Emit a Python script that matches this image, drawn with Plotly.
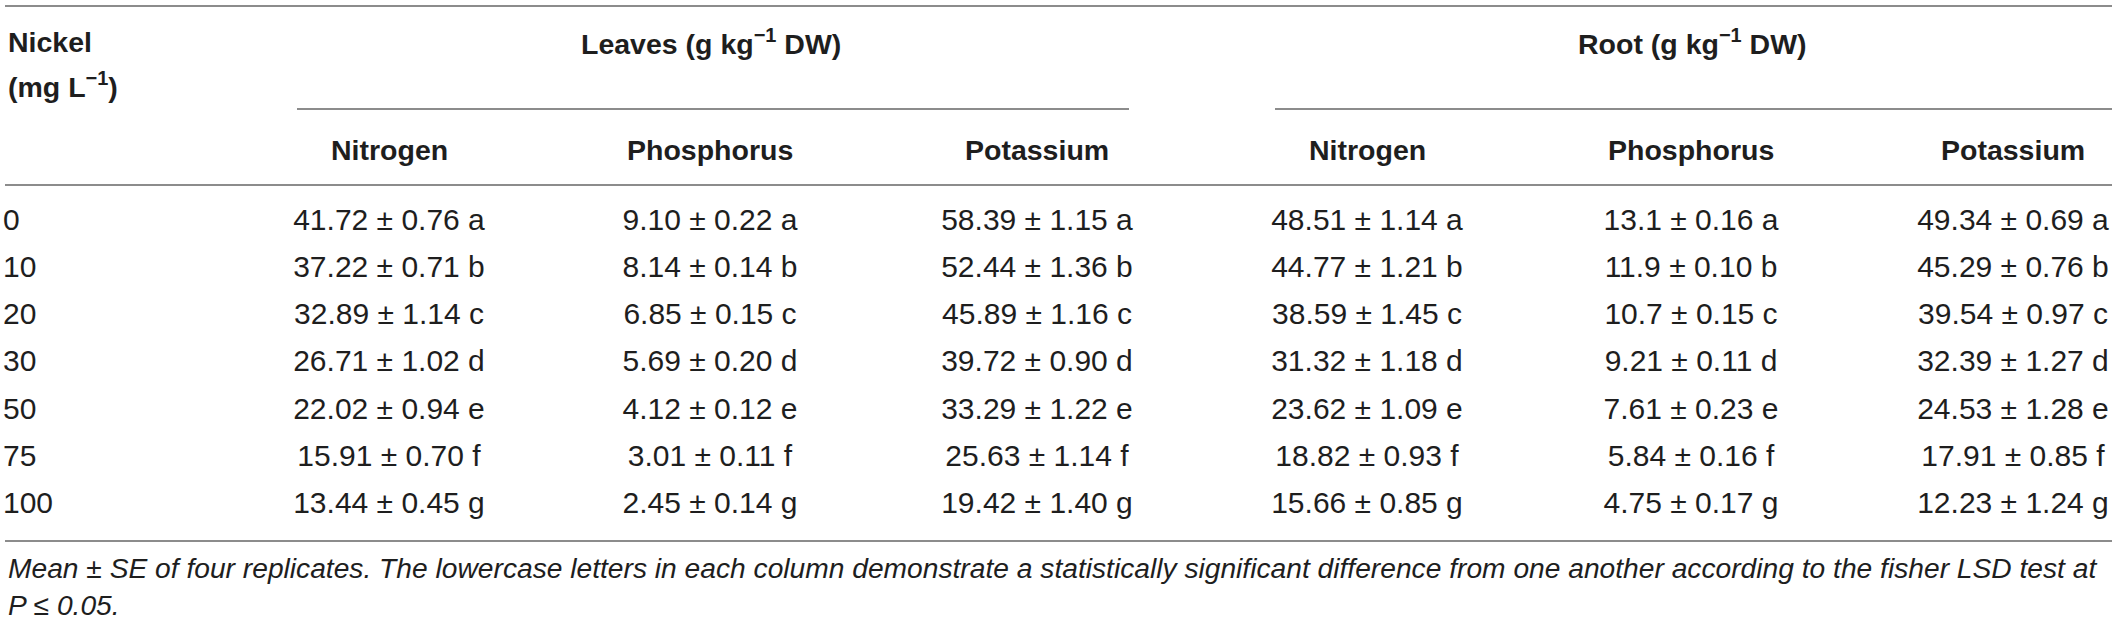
import plotly.graph_objects as go

# table values (mean, SE, LSD letter)
nickel = ["0", "10", "20", "30", "50", "75", "100"]
letters = ["a", "b", "c", "d", "e", "f", "g"]

leaves_n_mean = ["41.72", "37.22", "32.89", "26.71", "22.02", "15.91", "13.44"]
leaves_n_se = ["0.76", "0.71", "1.14", "1.02", "0.94", "0.70", "0.45"]
leaves_p_mean = ["9.10", "8.14", "6.85", "5.69", "4.12", "3.01", "2.45"]
leaves_p_se = ["0.22", "0.14", "0.15", "0.20", "0.12", "0.11", "0.14"]
leaves_k_mean = ["58.39", "52.44", "45.89", "39.72", "33.29", "25.63", "19.42"]
leaves_k_se = ["1.15", "1.36", "1.16", "0.90", "1.22", "1.14", "1.40"]

root_n_mean = ["48.51", "44.77", "38.59", "31.32", "23.62", "18.82", "15.66"]
root_n_se = ["1.14", "1.21", "1.45", "1.18", "1.09", "0.93", "0.85"]
root_p_mean = ["13.1", "11.9", "10.7", "9.21", "7.61", "5.84", "4.75"]
root_p_se = ["0.16", "0.10", "0.15", "0.11", "0.23", "0.16", "0.17"]
root_k_mean = ["49.34", "45.29", "39.54", "32.39", "24.53", "17.91", "12.23"]
root_k_se = ["0.69", "0.76", "0.97", "1.27", "1.28", "0.85", "1.24"]

sub_headers = ["Nitrogen", "Phosphorus", "Potassium", "Nitrogen", "Phosphorus", "Potassium"]
group_headers = ["Leaves (g kg<sup>−1</sup> DW)", "Root (g kg<sup>−1</sup> DW)"]
footnote = ["Mean ± SE of four replicates. The lowercase letters in each column demonstrate a "
            "statistically significant difference from one another according to the fisher LSD test at",
            "P ≤ 0.05."]

columns = [
    (leaves_n_mean, leaves_n_se), (leaves_p_mean, leaves_p_se), (leaves_k_mean, leaves_k_se),
    (root_n_mean, root_n_se), (root_p_mean, root_p_se), (root_k_mean, root_k_se),
]

# layout (pixel space)
W, H = 2117, 624
col_x = [389, 710, 1037, 1367, 1691, 2013]
group_x = [711, 1692]
row_y0, row_dy = 222, 47.3
row_y = [row_y0 + i * row_dy for i in range(len(nickel))]

FONT = "Liberation Sans, Arial, sans-serif"
TXT = "#1e1e1e"
RULE = "#8c8c8c"

fig = go.Figure()

# first column: nickel levels, left aligned
fig.add_trace(go.Scatter(
    x=[3] * len(nickel), y=row_y, text=nickel, mode="text",
    textposition="middle right", textfont=dict(family=FONT, size=30, color=TXT),
    hoverinfo="skip", showlegend=False, cliponaxis=False))

for cx, (means, ses) in zip(col_x, columns):
    cells = [f"{m} ± {s} {l}" for m, s, l in zip(means, ses, letters)]
    fig.add_trace(go.Scatter(
        x=[cx] * len(cells), y=row_y, text=cells, mode="text",
        textposition="middle center", textfont=dict(family=FONT, size=30, color=TXT),
        hoverinfo="skip", showlegend=False, cliponaxis=False))

annotations = []
bold = dict(family=FONT, size=28.5, color=TXT, weight="bold")
annotations.append(dict(x=6, y=42, text="<b>Nickel</b>", xanchor="left", font=bold))
annotations.append(dict(x=6, y=85, text="<b>(mg L<sup>−1</sup>)</b>", xanchor="left", font=bold))
for gx, gt in zip(group_x, group_headers):
    annotations.append(dict(x=gx, y=42, text=f"<b>{gt}</b>", xanchor="center", font=bold))
for cx, st in zip(col_x, sub_headers):
    annotations.append(dict(x=cx, y=150, text=f"<b>{st}</b>", xanchor="center", font=bold))
for fy, ft in zip([568, 605], footnote):
    annotations.append(dict(x=6, y=fy, text=f"<i>{ft}</i>", xanchor="left",
                            font=dict(family=FONT, size=28.2, color=TXT, style="italic")))
for a in annotations:
    a.update(xref="x", yref="y", showarrow=False, yanchor="middle")

rules = [(5, 2112, 6), (297, 1129, 109), (1275, 2112, 109), (5, 2112, 185), (5, 2112, 541)]
shapes = [dict(type="line", xref="x", yref="y", x0=a, x1=b, y0=y, y1=y,
               line=dict(color=RULE, width=2)) for a, b, y in rules]

fig.update_layout(
    width=W, height=H,
    margin=dict(l=0, r=0, t=0, b=0),
    paper_bgcolor="white", plot_bgcolor="white",
    xaxis=dict(range=[0, W], visible=False, fixedrange=True),
    yaxis=dict(range=[H, 0], visible=False, fixedrange=True),
    annotations=annotations, shapes=shapes,
)

# drop the default page margin so the figure sits at the window's top-left corner
fig.write_html("out.html", config={"displayModeBar": False},
               post_script="document.body.style.margin='0';document.body.style.overflow='hidden';")
